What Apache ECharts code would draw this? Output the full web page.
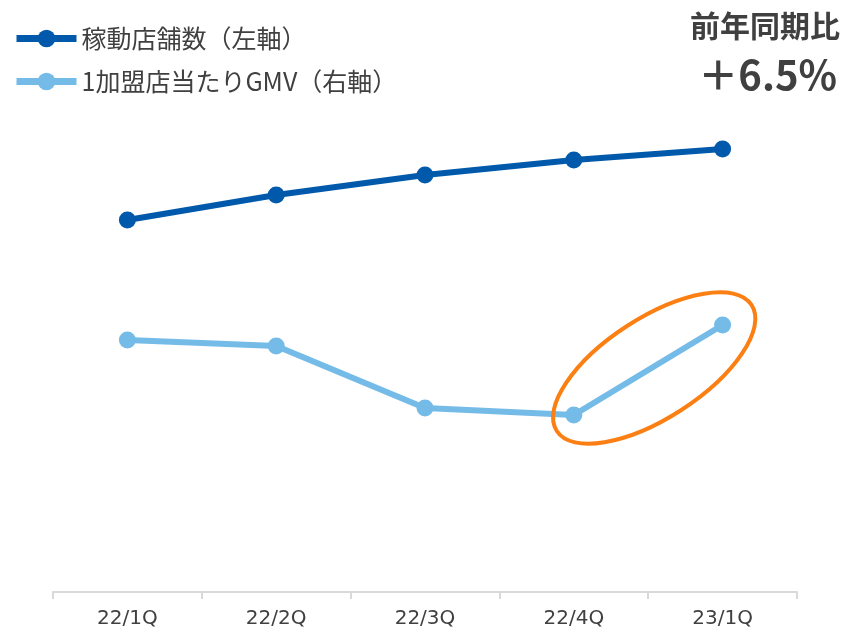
<!DOCTYPE html>
<html><head><meta charset="utf-8">
<script src="https://cdn.jsdelivr.net/npm/echarts@6/dist/echarts.min.js"></script>
<style>html,body{margin:0;padding:0;background:#fff}#c{width:852px;height:630px}</style>
</head><body><div id="c"></div>
<script>
const categories = ['22/1Q','22/2Q','22/3Q','22/4Q','23/1Q'];
const storeCount = [74.4, 79.4, 83.4, 86.4, 88.6];      // 稼動店舗数（左軸）, relative units
const gmvPerStore = [50.4, 49.2, 36.8, 35.4, 53.4];     // 1加盟店当たりGMV（右軸）, relative units
const seriesNames = ['稼動店舗数（左軸）','1加盟店当たりGMV（右軸）'];
const titleText = '前年同期比';
const growthText = '＋6.5%';

const FONT = '"Noto Sans CJK JP", "Noto Sans", sans-serif';
const chart = echarts.init(document.getElementById('c'), null, {renderer:'canvas'});
chart.setOption({
  animation:false,
  backgroundColor:'#fff',
  textStyle:{fontFamily:FONT},
  title:[
    {text:titleText, right:7, top:6,
     textStyle:{fontSize:30,fontWeight:'bold',color:'#404040',fontFamily:FONT}},
    {text:growthText, right:10, top:50,
     textStyle:{fontSize:40,fontWeight:'bold',color:'#404040',fontFamily:FONT}}
  ],
  legend:{
    orient:'vertical', left:13, top:26, padding:0, itemWidth:60, itemHeight:22, itemGap:18,
    lineStyle:{width:7},
    textStyle:{fontSize:25,color:'#404040',fontFamily:FONT},
    data:seriesNames
  },
  grid:{left:53,right:55,top:92,bottom:38},
  xAxis:{
    type:'category', data:categories, boundaryGap:true,
    axisLine:{lineStyle:{color:'#d9d9d9',width:2}},
    axisTick:{show:true,length:7,lineStyle:{color:'#d9d9d9',width:2}},
    axisLabel:{fontSize:20,color:'#404040',margin:17,fontFamily:'"DejaVu Sans", sans-serif'}
  },
  yAxis:[
    {type:'value',min:0,max:100,show:false,splitLine:{show:false}},
    {type:'value',min:0,max:100,show:false,splitLine:{show:false}}
  ],
  series:[
    {name:seriesNames[0],type:'line',yAxisIndex:0,data:storeCount,
     symbol:'circle',symbolSize:17,lineStyle:{width:6,color:'#0059aa'},
     itemStyle:{color:'#0059aa'}},
    {name:seriesNames[1],type:'line',yAxisIndex:1,data:gmvPerStore,
     symbol:'circle',symbolSize:17,lineStyle:{width:6,color:'#74bbe8'},
     itemStyle:{color:'#74bbe8'}}
  ]
});
// Orange highlight ellipse around the last segment of the GMV line
const p1 = chart.convertToPixel({xAxisIndex:0,yAxisIndex:1},[3,gmvPerStore[3]]);
const p2 = chart.convertToPixel({xAxisIndex:0,yAxisIndex:1},[4,gmvPerStore[4]]);
const cx = (p1[0]+p2[0])/2 + 6, cy = (p1[1]+p2[1])/2 - 2;
const ang = Math.atan2(p1[1]-p2[1], p2[0]-p1[0]) + 0.03;
chart.setOption({
  graphic:[{
    type:'ellipse', x:cx, y:cy, rotation:ang,
    shape:{cx:0,cy:0,rx:116,ry:50},
    style:{fill:'none',stroke:'#fb7f12',lineWidth:4},
    z:100
  }]
});
</script></body></html>
